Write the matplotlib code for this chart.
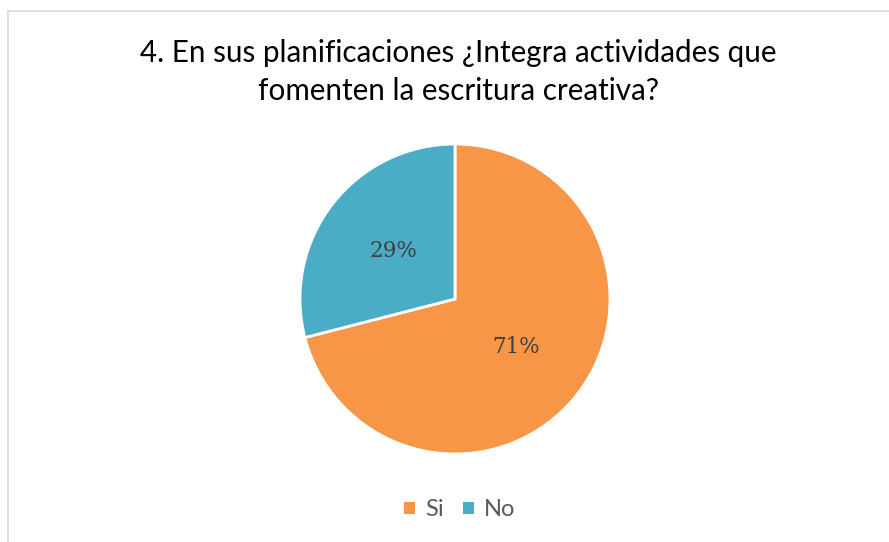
import matplotlib.pyplot as plt
from matplotlib.lines import Line2D
from matplotlib.patches import Patch

# Data
labels = ['Si', 'No']
values = [71, 29]
colors = ['#F79646', '#4BACC6']
title = '4. En sus planificaciones ¿Integra actividades que\nfomenten la escritura creativa?'

fig = plt.figure(figsize=(8.89, 5.42), dpi=100)

# light chart border (only top and left are visible in the crop)
fig.add_artist(Line2D([8 / 889, 8 / 889], [0, 1 - 11 / 542], color='#D9D9D9', lw=1.2))
fig.add_artist(Line2D([8 / 889, 1], [1 - 11 / 542, 1 - 11 / 542], color='#D9D9D9', lw=1.2))

# pie axes centred at (455, 299) px with radius 155 px
w = 310 / 889
h = 310 / 542
ax = fig.add_axes([455 / 889 - w / 2, 1 - 299 / 542 - h / 2, w, h])
wedges, texts, autotexts = ax.pie(values, colors=colors, startangle=90, counterclock=False,
                                  autopct='%1.0f%%', pctdistance=0.5,
                                  wedgeprops=dict(edgecolor='white', linewidth=2),
                                  textprops=dict(family='DejaVu Serif', fontsize=15.5, color='#404040'))
ax.set_xlim(-1, 1)
ax.set_ylim(-1, 1)
ax.set_aspect('equal')
ax.axis('off')

fig.text(458 / 889, 1 - 72 / 542, title, ha='center', va='center', fontsize=21.3,
         family='Lato', color='black', linespacing=1.4)

handles = [Patch(facecolor=c, edgecolor='none') for c in colors]
fig.legend(handles, labels, loc='center', bbox_to_anchor=(460 / 889, 1 - 510 / 542), ncol=2,
           frameon=False, handlelength=0.45, handleheight=0.45, handletextpad=0.45, columnspacing=0.8,
           prop=dict(family='Lato', size=17), labelcolor='#595959')

fig.savefig('out.png', dpi=100)
